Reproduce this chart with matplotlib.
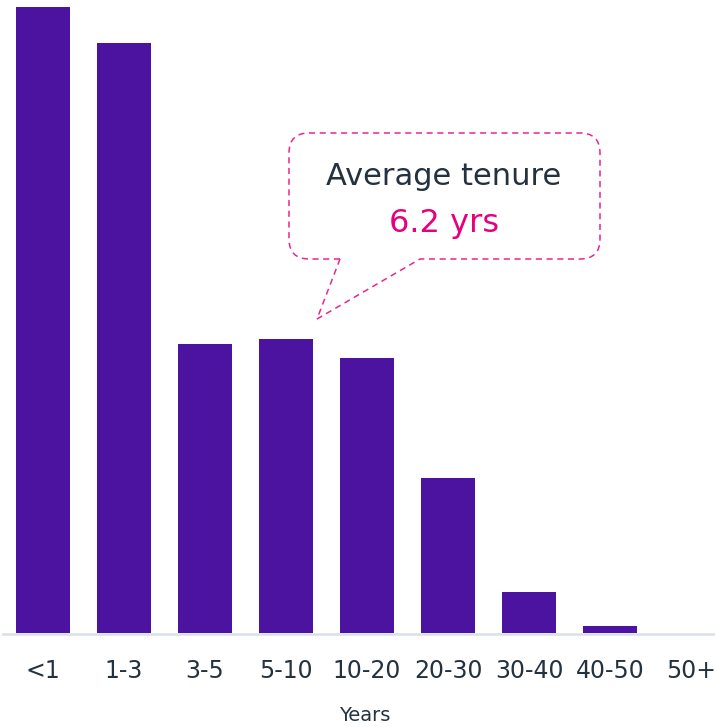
import matplotlib
matplotlib.use("Agg")
import matplotlib.pyplot as plt
from matplotlib.path import Path
from matplotlib.patches import PathPatch
from matplotlib.transforms import Affine2D

# Tenure distribution (% of people per band)
bands = ["<1", "1-3", "3-5", "5-10", "10-20", "20-30", "30-40", "40-50", "50+"]
share = [27.5, 25.9, 12.7, 12.9, 12.1, 6.8, 1.8, 0.3, 0.0]
avg_label = "Average tenure"
avg_value = "6.2 yrs"
x_title = "Years"

BAR = "#4b13a0"
INK = "#243240"
PINK = "#e5007d"
BASE = "#d9e0e8"

W, H = 715, 727
fig = plt.figure(figsize=(W / 100, H / 100), dpi=100)
fig.patch.set_facecolor("white")

# axes placed in pixel terms: left edge 3px, baseline 633px from top
ax = fig.add_axes([3 / W, (H - 633) / H, 712 / W, 633 / H])
xs = list(range(len(bands)))
ax.bar(xs, share, width=0.667, color=BAR, zorder=2)
ax.set_xlim(-0.494, 8.296)
ax.set_ylim(0, 27.81)
# light baseline running under the bars
ax.axhline(-0.045, color=BASE, lw=1.8, zorder=3, clip_on=False)
for s in ax.spines.values():
    s.set_visible(False)
ax.set_yticks([])
ax.set_xticks(xs)
ax.set_xticklabels(bands, fontsize=17, color=INK)
ax.tick_params(axis="x", length=0, pad=19)

fig.text(365 / W, 1 - 721 / H, x_title, ha="center", va="baseline",
         fontsize=14, color=INK)

# speech-bubble callout, built in pixel coordinates (origin top-left)
to_fig = Affine2D().scale(1 / W, -1 / H).translate(0, 1) + fig.transFigure
L, R, T, B, r = 289, 600, 133, 259, 20
bl, br = 340, 420
tip = (317, 319)
verts = [
    (bl, B), (L + r, B),
    (L, B), (L, B - r),
    (L, T + r),
    (L, T), (L + r, T),
    (R - r, T),
    (R, T), (R, T + r),
    (R, B - r),
    (R, B), (R - r, B),
    (br, B),
    tip,
    (bl, B),
]
codes = [
    Path.MOVETO, Path.LINETO,
    Path.CURVE3, Path.CURVE3,
    Path.LINETO,
    Path.CURVE3, Path.CURVE3,
    Path.LINETO,
    Path.CURVE3, Path.CURVE3,
    Path.LINETO,
    Path.CURVE3, Path.CURVE3,
    Path.LINETO,
    Path.LINETO,
    Path.LINETO,
]
bubble = PathPatch(Path(verts, codes), transform=to_fig, facecolor="none",
                   edgecolor=PINK, lw=1.1, linestyle=(0, (4, 3)), alpha=0.85)
fig.add_artist(bubble)

fig.text(444 / W, 1 - 185 / H, avg_label, ha="center", va="baseline",
         fontsize=22, color=INK)
fig.text(444 / W, 1 - 232 / H, avg_value, ha="center", va="baseline",
         fontsize=23, color=PINK)

fig.savefig("out.png", dpi=100, facecolor="white")
